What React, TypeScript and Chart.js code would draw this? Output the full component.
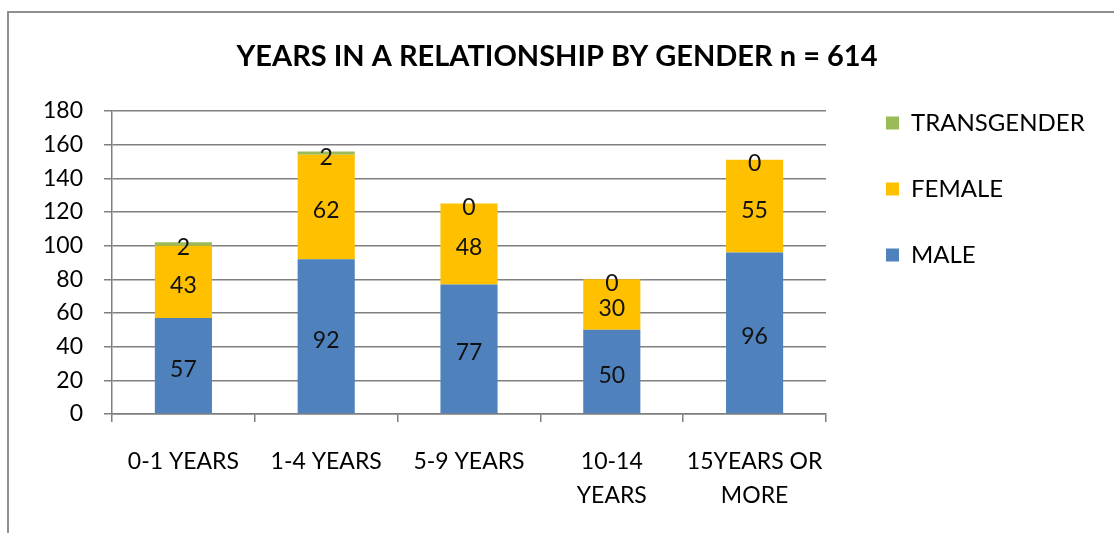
import React, { useEffect, useRef } from "react";
import { Chart, registerables } from "chart.js";

Chart.register(...registerables);

const chartTitle = "YEARS IN A RELATIONSHIP BY GENDER n = 614";
const categories: string[][] = [
  ["0-1 YEARS"],
  ["1-4 YEARS"],
  ["5-9 YEARS"],
  ["10-14", "YEARS"],
  ["15YEARS OR", "MORE"],
];
const seriesNames = ["MALE", "FEMALE", "TRANSGENDER"];
const maleValues = [57, 92, 77, 50, 96];
const femaleValues = [43, 62, 48, 30, 55];
const transgenderValues = [2, 2, 0, 0, 0];
const yMin = 0;
const yMax = 180;
const yStep = 20;

const FONT = "Lato";
const GRID = "#7f7f7f";

const segmentLabels = {
  id: "segmentLabels",
  afterDatasetsDraw(chart: any) {
    const ctx = chart.ctx;
    ctx.save();
    ctx.font = `23px ${FONT}`;
    ctx.fillStyle = "#111";
    ctx.textAlign = "center";
    ctx.textBaseline = "middle";
    chart.data.datasets.forEach((ds: any, i: number) => {
      const meta = chart.getDatasetMeta(i);
      meta.data.forEach((bar: any, j: number) => {
        const p = bar.getProps(["x", "y", "base"], true);
        ctx.fillText(String(ds.data[j]), p.x, (p.y + p.base) / 2 + 4);
      });
    });
    ctx.restore();
  },
};

const spacer = (w: number, weight: number) => ({
  type: "linear",
  position: "right",
  display: true,
  weight,
  grid: { display: false, drawTicks: false },
  ticks: { display: false },
  border: { display: false },
  afterFit: (s: any) => {
    s.width = w;
  },
});

export default function App() {
  const ref = useRef<HTMLCanvasElement | null>(null);

  useEffect(() => {
    if (!ref.current) return;
    const chart = new Chart(ref.current, {
      type: "bar",
      data: {
        labels: categories,
        datasets: [
          { label: seriesNames[0], data: maleValues, backgroundColor: "#4F81BD" },
          { label: seriesNames[1], data: femaleValues, backgroundColor: "#FFC000" },
          { label: seriesNames[2], data: transgenderValues, backgroundColor: "#9BBB59" },
        ],
      },
      options: {
        responsive: false,
        animation: false,
        devicePixelRatio: 1,
        layout: { padding: 0 },
        datasets: { bar: { barPercentage: 0.4, categoryPercentage: 1.0 } },
        plugins: {
          title: {
            display: true,
            text: chartTitle,
            color: "#000",
            font: { family: FONT, size: 29, weight: "bold", lineHeight: 1.2 },
            padding: { top: 39.6, bottom: 36.6 },
          },
          legend: {
            position: "right",
            align: "start",
            fullSize: false,
            reverse: true,
            maxWidth: 200,
            labels: {
              boxWidth: 13,
              boxHeight: 13,
              padding: 0,
              color: "#000",
              font: { family: FONT, size: 24, lineHeight: "66px" },
              generateLabels(chart: any) {
                const items = Chart.defaults.plugins.legend.labels.generateLabels(chart);
                return items.map((it: any) => ({ ...it, text: [it.text], lineWidth: 0 }));
              },
            },
          },
          tooltip: { enabled: false },
        },
        scales: {
          x: {
            stacked: true,
            ticks: {
              color: "#000",
              font: { family: FONT, size: 23, lineHeight: "34px" },
              padding: 23,
              maxRotation: 0,
              autoSkip: false,
            },
            grid: { drawOnChartArea: false, color: GRID, tickLength: 8, lineWidth: 1.5 },
            border: { color: GRID, width: 1.5 },
            afterFit: (s: any) => {
              s.height = 119;
            },
          },
          y: {
            stacked: true,
            min: yMin,
            max: yMax,
            ticks: {
              stepSize: yStep,
              color: "#000",
              font: { family: FONT, size: 23 },
              padding: 21,
            },
            grid: { color: GRID, tickLength: 8, lineWidth: 1.5 },
            border: { color: GRID, width: 1.5 },
            afterFit: (s: any) => {
              s.width = 112;
            },
          },
          gapInner: spacer(60, 0),
          gapOuter: spacer(28, 2000),
        },
      } as any,
      plugins: [segmentLabels],
    });
    return () => chart.destroy();
  }, []);

  return (
    <div
      style={{
        position: "fixed",
        left: 0,
        top: 0,
        width: 1114,
        height: 533,
        background: "#fff",
        overflow: "hidden",
      }}
    >
      <div
        style={{
          position: "absolute",
          left: 7,
          top: 11,
          width: 1200,
          height: 600,
          border: "2px solid #8f8f8f",
          boxSizing: "border-box",
        }}
      />
      <canvas ref={ref} width={1114} height={533} style={{ position: "absolute", left: 0, top: 0 }} />
    </div>
  );
}
